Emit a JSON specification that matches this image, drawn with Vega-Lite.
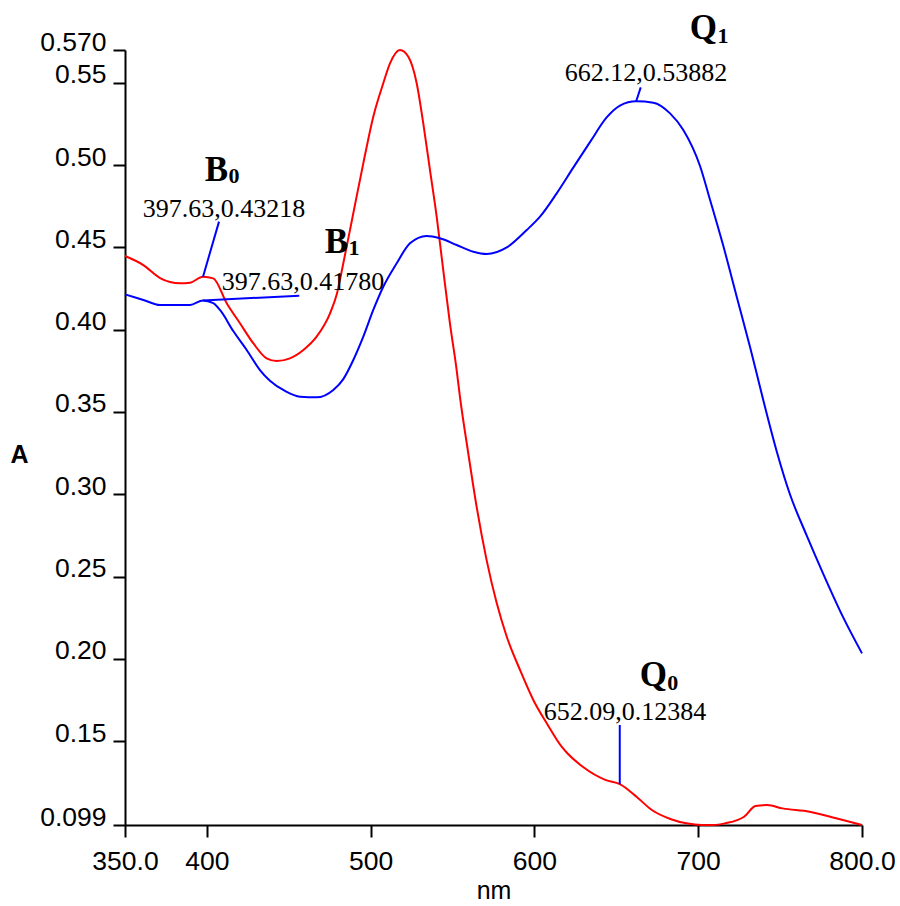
{
  "$schema": "https://vega.github.io/schema/vega-lite/v6.json",
  "width": 737,
  "height": 775,
  "autosize": {"type": "none"},
  "padding": {"left": 125, "top": 50, "right": 38, "bottom": 81},
  "background": "white",
  "config": {
    "view": {"stroke": null},
    "axis": {
      "domainColor": "black",
      "domainWidth": 2,
      "tickColor": "black",
      "tickWidth": 2,
      "tickSize": 12,
      "grid": false,
      "labelFont": "Liberation Sans",
      "labelFontSize": 26.5,
      "labelColor": "black",
      "titleFont": "Liberation Sans",
      "titleColor": "black"
    }
  },
  "datasets": {
    "spectra": [
      {"nm": 350.0, "A": 0.4448, "series": "red"},
      {"nm": 361.2, "A": 0.4393, "series": "red"},
      {"nm": 371.4, "A": 0.4314, "series": "red"},
      {"nm": 383.6, "A": 0.4282, "series": "red"},
      {"nm": 389.7, "A": 0.4286, "series": "red"},
      {"nm": 397.63, "A": 0.43218, "series": "red"},
      {"nm": 403.9, "A": 0.4312, "series": "red"},
      {"nm": 412.1, "A": 0.4161, "series": "red"},
      {"nm": 420.2, "A": 0.4039, "series": "red"},
      {"nm": 428.3, "A": 0.3918, "series": "red"},
      {"nm": 436.5, "A": 0.3826, "series": "red"},
      {"nm": 442.6, "A": 0.3810, "series": "red"},
      {"nm": 450.7, "A": 0.3826, "series": "red"},
      {"nm": 458.9, "A": 0.3877, "series": "red"},
      {"nm": 467.0, "A": 0.3958, "series": "red"},
      {"nm": 475.2, "A": 0.4100, "series": "red"},
      {"nm": 479.3, "A": 0.4215, "series": "red"},
      {"nm": 483.3, "A": 0.4404, "series": "red"},
      {"nm": 489.4, "A": 0.4708, "series": "red"},
      {"nm": 495.5, "A": 0.5011, "series": "red"},
      {"nm": 501.6, "A": 0.5295, "series": "red"},
      {"nm": 507.7, "A": 0.5498, "series": "red"},
      {"nm": 511.8, "A": 0.5619, "series": "red"},
      {"nm": 517.9, "A": 0.5700, "series": "red"},
      {"nm": 523.0, "A": 0.5659, "series": "red"},
      {"nm": 528.1, "A": 0.5498, "series": "red"},
      {"nm": 532.1, "A": 0.5255, "series": "red"},
      {"nm": 536.2, "A": 0.4971, "series": "red"},
      {"nm": 540.3, "A": 0.4687, "series": "red"},
      {"nm": 544.3, "A": 0.4363, "series": "red"},
      {"nm": 548.4, "A": 0.4039, "series": "red"},
      {"nm": 552.5, "A": 0.3755, "series": "red"},
      {"nm": 554.5, "A": 0.3593, "series": "red"},
      {"nm": 559.6, "A": 0.3249, "series": "red"},
      {"nm": 564.7, "A": 0.2924, "series": "red"},
      {"nm": 570.8, "A": 0.2600, "series": "red"},
      {"nm": 577.0, "A": 0.2337, "series": "red"},
      {"nm": 583.1, "A": 0.2134, "series": "red"},
      {"nm": 591.2, "A": 0.1932, "series": "red"},
      {"nm": 599.3, "A": 0.1750, "series": "red"},
      {"nm": 607.5, "A": 0.1608, "series": "red"},
      {"nm": 616.6, "A": 0.1466, "series": "red"},
      {"nm": 620.1, "A": 0.1426, "series": "red"},
      {"nm": 629.5, "A": 0.1344, "series": "red"},
      {"nm": 643.6, "A": 0.1263, "series": "red"},
      {"nm": 652.09, "A": 0.12384, "series": "red"},
      {"nm": 662.3, "A": 0.1162, "series": "red"},
      {"nm": 671.7, "A": 0.1081, "series": "red"},
      {"nm": 683.4, "A": 0.1025, "series": "red"},
      {"nm": 692.8, "A": 0.1000, "series": "red"},
      {"nm": 702.2, "A": 0.0990, "series": "red"},
      {"nm": 709.2, "A": 0.0990, "series": "red"},
      {"nm": 716.3, "A": 0.1000, "series": "red"},
      {"nm": 728.0, "A": 0.1040, "series": "red"},
      {"nm": 735.0, "A": 0.1105, "series": "red"},
      {"nm": 742.1, "A": 0.1111, "series": "red"},
      {"nm": 751.5, "A": 0.1091, "series": "red"},
      {"nm": 767.9, "A": 0.1071, "series": "red"},
      {"nm": 784.2, "A": 0.1031, "series": "red"},
      {"nm": 800.0, "A": 0.0990, "series": "red"},
      {"nm": 350.0, "A": 0.4215, "series": "blue"},
      {"nm": 361.2, "A": 0.4181, "series": "blue"},
      {"nm": 371.4, "A": 0.4150, "series": "blue"},
      {"nm": 389.7, "A": 0.4150, "series": "blue"},
      {"nm": 397.63, "A": 0.41780, "series": "blue"},
      {"nm": 403.9, "A": 0.4161, "series": "blue"},
      {"nm": 408.0, "A": 0.4120, "series": "blue"},
      {"nm": 416.1, "A": 0.3992, "series": "blue"},
      {"nm": 424.3, "A": 0.3877, "series": "blue"},
      {"nm": 432.4, "A": 0.3755, "series": "blue"},
      {"nm": 438.5, "A": 0.3690, "series": "blue"},
      {"nm": 447.7, "A": 0.3628, "series": "blue"},
      {"nm": 456.9, "A": 0.3593, "series": "blue"},
      {"nm": 467.0, "A": 0.3589, "series": "blue"},
      {"nm": 477.2, "A": 0.3634, "series": "blue"},
      {"nm": 483.3, "A": 0.3700, "series": "blue"},
      {"nm": 489.4, "A": 0.3816, "series": "blue"},
      {"nm": 495.5, "A": 0.3958, "series": "blue"},
      {"nm": 501.6, "A": 0.4120, "series": "blue"},
      {"nm": 507.7, "A": 0.4261, "series": "blue"},
      {"nm": 515.9, "A": 0.4404, "series": "blue"},
      {"nm": 524.0, "A": 0.4525, "series": "blue"},
      {"nm": 534.2, "A": 0.4570, "series": "blue"},
      {"nm": 542.3, "A": 0.4556, "series": "blue"},
      {"nm": 552.5, "A": 0.4515, "series": "blue"},
      {"nm": 562.7, "A": 0.4474, "series": "blue"},
      {"nm": 570.8, "A": 0.4460, "series": "blue"},
      {"nm": 583.1, "A": 0.4500, "series": "blue"},
      {"nm": 595.3, "A": 0.4606, "series": "blue"},
      {"nm": 603.4, "A": 0.4687, "series": "blue"},
      {"nm": 613.6, "A": 0.4829, "series": "blue"},
      {"nm": 623.7, "A": 0.4985, "series": "blue"},
      {"nm": 633.9, "A": 0.5140, "series": "blue"},
      {"nm": 644.1, "A": 0.5290, "series": "blue"},
      {"nm": 652.2, "A": 0.5362, "series": "blue"},
      {"nm": 662.12, "A": 0.53882, "series": "blue"},
      {"nm": 672.6, "A": 0.5380, "series": "blue"},
      {"nm": 682.8, "A": 0.5315, "series": "blue"},
      {"nm": 690.9, "A": 0.5214, "series": "blue"},
      {"nm": 701.1, "A": 0.4995, "series": "blue"},
      {"nm": 707.2, "A": 0.4790, "series": "blue"},
      {"nm": 715.3, "A": 0.4510, "series": "blue"},
      {"nm": 723.5, "A": 0.4201, "series": "blue"},
      {"nm": 731.6, "A": 0.3897, "series": "blue"},
      {"nm": 739.7, "A": 0.3573, "series": "blue"},
      {"nm": 747.9, "A": 0.3262, "series": "blue"},
      {"nm": 756.0, "A": 0.3000, "series": "blue"},
      {"nm": 766.2, "A": 0.2750, "series": "blue"},
      {"nm": 776.4, "A": 0.2515, "series": "blue"},
      {"nm": 788.6, "A": 0.2250, "series": "blue"},
      {"nm": 800.0, "A": 0.2033, "series": "blue"}
    ],
    "leaders": [
      {"nm": 397.63, "A": 0.43218, "nm2": 407.4, "A2": 0.4657},
      {"nm": 397.63, "A": 0.41780, "nm2": 456.4, "A2": 0.4207},
      {"nm": 662.12, "A": 0.53882, "nm2": 664.9, "A2": 0.5473},
      {"nm": 652.09, "A": 0.12384, "nm2": 652.09, "A2": 0.1598}
    ],
    "letters": [
      {"nm": 412.9, "A": 0.4904, "text": "B"},
      {"nm": 486.3, "A": 0.4468, "text": "B"},
      {"nm": 711.5, "A": 0.5765, "text": "Q"},
      {"nm": 680.9, "A": 0.1835, "text": "Q"}
    ],
    "subs": [
      {"nm": 413.2, "A": 0.4892, "text": "0"},
      {"nm": 486.5, "A": 0.4454, "text": "1"},
      {"nm": 711.7, "A": 0.5744, "text": "1"},
      {"nm": 681.1, "A": 0.1810, "text": "0"}
    ],
    "values": [
      {"nm": 410.4, "A": 0.4687, "text": "397.63,0.43218"},
      {"nm": 458.7, "A": 0.4241, "text": "397.63,0.41780"},
      {"nm": 668.1, "A": 0.5512, "text": "662.12,0.53882"},
      {"nm": 655.3, "A": 0.1628, "text": "652.09,0.12384"}
    ]
  },
  "layer": [
    {
      "data": {"name": "spectra"},
      "mark": {"type": "line", "strokeWidth": 2, "interpolate": "monotone"},
      "encoding": {
        "x": {
          "field": "nm", "type": "quantitative",
          "scale": {"domain": [350, 800], "nice": false, "zero": false},
          "axis": {
            "title": "nm",
            "titleFontSize": 25,
            "titleFontWeight": "normal",
            "titleY": 73,
            "titleBaseline": "alphabetic",
            "values": [350, 400, 500, 600, 700, 800],
            "labelExpr": "datum.value == 350 ? '350.0' : datum.value == 800 ? '800.0' : format(datum.value, 'd')",
            "labelPadding": 11,
            "labelFlush": false,
            "labelOverlap": false
          }
        },
        "y": {
          "field": "A", "type": "quantitative",
          "scale": {"domain": [0.099, 0.57], "nice": false, "zero": false},
          "axis": {
            "title": "A",
            "titleFontSize": 25,
            "titleFontWeight": "bold",
            "titleAngle": 0,
            "titleX": -106,
            "titleY": 404,
            "titleAlign": "center",
            "titleBaseline": "middle",
            "values": [0.099, 0.15, 0.2, 0.25, 0.3, 0.35, 0.4, 0.45, 0.5, 0.55, 0.57],
            "labelExpr": "datum.value == 0.099 ? '0.099' : datum.value == 0.57 ? '0.570' : format(datum.value, '.2f')",
            "labelPadding": 7,
            "labelOffset": -8,
            "labelFlush": false,
            "labelOverlap": false
          }
        },
        "color": {
          "field": "series", "type": "nominal",
          "scale": {"domain": ["red", "blue"], "range": ["#ff0000", "#0000ff"]},
          "legend": null
        },
        "detail": {"field": "series"}
      }
    },
    {
      "data": {"name": "leaders"},
      "mark": {"type": "rule", "color": "#0000ff", "strokeWidth": 2},
      "encoding": {
        "x": {"field": "nm", "type": "quantitative"},
        "y": {"field": "A", "type": "quantitative"},
        "x2": {"field": "nm2"},
        "y2": {"field": "A2"}
      }
    },
    {
      "data": {"name": "letters"},
      "mark": {"type": "text", "font": "Liberation Serif", "fontWeight": "bold", "fontSize": 35, "align": "right", "baseline": "alphabetic", "color": "black"},
      "encoding": {
        "x": {"field": "nm", "type": "quantitative"},
        "y": {"field": "A", "type": "quantitative"},
        "text": {"field": "text"}
      }
    },
    {
      "data": {"name": "subs"},
      "mark": {"type": "text", "font": "Liberation Serif", "fontWeight": "bold", "fontSize": 22, "align": "left", "baseline": "alphabetic", "color": "black"},
      "encoding": {
        "x": {"field": "nm", "type": "quantitative"},
        "y": {"field": "A", "type": "quantitative"},
        "text": {"field": "text"}
      }
    },
    {
      "data": {"name": "values"},
      "mark": {"type": "text", "font": "Liberation Serif", "fontSize": 26, "align": "center", "baseline": "alphabetic", "color": "black"},
      "encoding": {
        "x": {"field": "nm", "type": "quantitative"},
        "y": {"field": "A", "type": "quantitative"},
        "text": {"field": "text"}
      }
    }
  ]
}
